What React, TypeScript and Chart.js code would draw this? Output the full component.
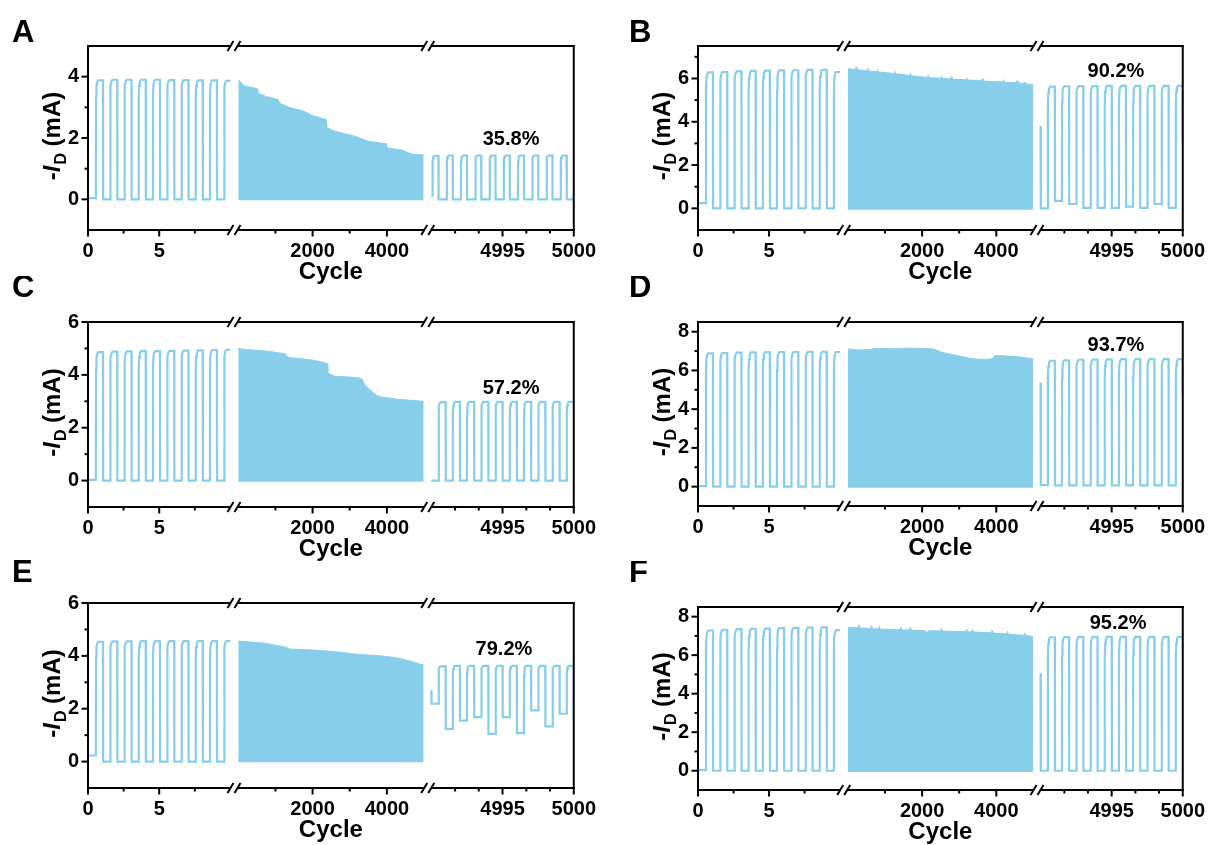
import React, { useEffect, useRef } from 'react';
import { Chart, registerables } from 'chart.js';

Chart.register(...registerables);

// ---------------- styles ----------------
const LINE_BLUE = '#87CEEB';
const FONT = '"Liberation Sans", Arial, Helvetica, sans-serif';

// ---------------- shared axis data ----------------
const SEG1_TICKS = [0, 2.5, 5, 7.5];
const SEG1_TICK_LABELS = ['0', '', '5', ''];
const SEG2_TICKS = [1000, 2000, 3000, 4000];
const SEG2_TICK_LABELS = ['', '2000', '', '4000'];
const SEG3_TICKS = [4991.67, 4993.33, 4995, 4996.67, 4998.33, 5000];
const SEG3_TICK_LABELS = ['', '', '4995', '', '', '5000'];
const Y_MIN = -1;

// ---------------- panel A ----------------
const A_Y_MAX = 5;
const A_Y_TICKS = [0, 1, 2, 3, 4];
const A_SEG1_START = 0.04;
const A_SEG1_PEAKS = [3.88, 3.9, 3.9, 3.9, 3.9, 3.89, 3.89, 3.88, 3.88, 3.86];
const A_ENVELOPE = [[0, 3.9], [150, 3.7], [430, 3.63], [520, 3.6], [540, 3.46], [760, 3.35], [1080, 3.25], [1100, 3.14], [1370, 3.0], [1770, 2.87], [2000, 2.73], [2370, 2.6], [2390, 2.33], [2600, 2.22], [2790, 2.16], [3160, 2.05], [3500, 1.89], [3990, 1.81], [4010, 1.68], [4430, 1.6], [4570, 1.52], [4730, 1.46], [4990, 1.45]];
const A_ENV_BASE = -0.03;
const A_SEG3_PEAKS = [1.42, 1.43, 1.43, 1.43, 1.43, 1.43, 1.43, 1.43, 1.43, 1.43];
const A_SEG3_LOWS = [0.12, 0, 0, 0, 0, 0, 0, 0, 0, 0];
const A_SEG3_START = null;
const A_SEG3_END = 0.15;
const A_SEG3_PHASE = [0.08, 0.5];
const A_RETENTION = '35.8%';
const A_LABEL_AT = [4995.6, 1.95];

// ---------------- panel B ----------------
const B_Y_MAX = 7.5;
const B_Y_TICKS = [0, 1, 2, 3, 4, 5, 6, 7];
const B_SEG1_START = 0.24;
const B_SEG1_PEAKS = [6.28, 6.3, 6.33, 6.35, 6.36, 6.37, 6.38, 6.4, 6.4, 6.3];
const B_ENVELOPE = [[0, 6.45], [200, 6.41], [218, 6.52], [240, 6.4], [520, 6.36], [534, 6.47], [555, 6.35], [780, 6.31], [795, 6.42], [815, 6.3], [1250, 6.23], [1266, 6.33], [1285, 6.22], [1670, 6.14], [1686, 6.24], [1705, 6.13], [2140, 6.05], [2157, 6.15], [2175, 6.04], [2505, 6.01], [2524, 6.11], [2545, 6.0], [2765, 5.98], [2785, 6.08], [2805, 5.97], [3185, 5.94], [3202, 6.04], [3220, 5.93], [3605, 5.89], [3622, 5.99], [3640, 5.88], [4180, 5.84], [4197, 5.94], [4215, 5.83], [4545, 5.81], [4564, 5.9], [4585, 5.79], [4755, 5.77], [4774, 5.85], [4795, 5.75], [4990, 5.72]];
const B_ENV_BASE = -0.07;
const B_SEG3_PEAKS = [5.62, 5.64, 5.65, 5.65, 5.66, 5.66, 5.66, 5.66, 5.66, 5.66];
const B_SEG3_LOWS = [0, 0.35, 0.2, 0.02, 0.02, 0.02, 0.08, 0.02, 0.2, 0.02];
const B_SEG3_START = 3.8;
const B_SEG3_END = 3.1;
const B_SEG3_PHASE = [0.5, 1.0];
const B_RETENTION = '90.2%';
const B_LABEL_AT = [4995.3, 6.3];

// ---------------- panel C ----------------
const C_Y_MAX = 6;
const C_Y_TICKS = [0, 1, 2, 3, 4, 5, 6];
const C_SEG1_START = 0.03;
const C_SEG1_PEAKS = [4.86, 4.88, 4.89, 4.9, 4.9, 4.91, 4.92, 4.93, 4.94, 4.95];
const C_ENVELOPE = [[0, 5.0], [120, 4.97], [755, 4.9], [1250, 4.8], [1330, 4.68], [1380, 4.66], [1980, 4.56], [2340, 4.46], [2395, 4.42], [2410, 4.06], [2590, 3.95], [3200, 3.9], [3330, 3.84], [3410, 3.61], [3560, 3.42], [3710, 3.23], [3815, 3.17], [4330, 3.07], [4990, 3.0]];
const C_ENV_BASE = -0.04;
const C_SEG3_PEAKS = [2.97, 2.98, 2.98, 2.98, 2.98, 2.98, 2.98, 2.98, 2.98, 2.98];
const C_SEG3_LOWS = [0, 0, 0, 0, 0, 0, 0, 0, 0, 0];
const C_SEG3_START = null;
const C_SEG3_END = null;
const C_SEG3_PHASE = [0.5, 1.0];
const C_RETENTION = '57.2%';
const C_LABEL_AT = [4995.6, 3.5];

// ---------------- panel D ----------------
const D_Y_MAX = 8.5;
const D_Y_TICKS = [0, 1, 2, 3, 4, 5, 6, 7, 8];
const D_SEG1_START = 0.03;
const D_SEG1_PEAKS = [6.88, 6.9, 6.92, 6.93, 6.94, 6.95, 6.95, 6.96, 6.96, 6.95];
const D_ENVELOPE = [[0, 7.11], [300, 7.05], [640, 7.08], [700, 7.14], [1270, 7.12], [1600, 7.15], [2000, 7.14], [2310, 7.1], [2520, 6.94], [2940, 6.77], [3100, 6.7], [3360, 6.6], [3680, 6.56], [3890, 6.6], [3950, 6.75], [4020, 6.77], [4620, 6.7], [4990, 6.6]];
const D_ENV_BASE = -0.06;
const D_SEG3_PEAKS = [6.5, 6.52, 6.55, 6.56, 6.57, 6.58, 6.58, 6.58, 6.58, 6.58];
const D_SEG3_LOWS = [0.08, 0.07, 0.07, 0.07, 0.07, 0.07, 0.07, 0.07, 0.07, 0.07];
const D_SEG3_START = 5.36;
const D_SEG3_END = 4.76;
const D_SEG3_PHASE = [0.5, 1.0];
const D_RETENTION = '93.7%';
const D_LABEL_AT = [4995.3, 7.3];

// ---------------- panel E ----------------
const E_Y_MAX = 6;
const E_Y_TICKS = [0, 1, 2, 3, 4, 5, 6];
const E_SEG1_START = 0.23;
const E_SEG1_PEAKS = [4.53, 4.55, 4.55, 4.56, 4.56, 4.56, 4.56, 4.56, 4.56, 4.56];
const E_ENVELOPE = [[0, 4.56], [755, 4.47], [1000, 4.4], [1300, 4.32], [1370, 4.26], [2000, 4.22], [2600, 4.16], [3200, 4.06], [3815, 4.0], [4220, 3.94], [4630, 3.8], [4990, 3.65]];
const E_ENV_BASE = -0.03;
const E_SEG3_PEAKS = [3.6, 3.62, 3.62, 3.62, 3.62, 3.62, 3.62, 3.62, 3.62, 3.62];
const E_SEG3_LOWS = [2.19, 1.24, 1.55, 1.68, 1.05, 1.68, 1.08, 1.94, 1.33, 1.81];
const E_SEG3_START = 2.7;
const E_SEG3_END = 1.56;
const E_SEG3_PHASE = [0.5, 1.0];
const E_RETENTION = '79.2%';
const E_LABEL_AT = [4995.1, 4.23];

// ---------------- panel F ----------------
const F_Y_MAX = 8.5;
const F_Y_TICKS = [0, 1, 2, 3, 4, 5, 6, 7, 8];
const F_SEG1_START = 0.03;
const F_SEG1_PEAKS = [7.28, 7.32, 7.35, 7.37, 7.38, 7.4, 7.42, 7.43, 7.44, 7.3];
const F_ENVELOPE = [[0, 7.45], [280, 7.42], [303, 7.58], [326, 7.41], [615, 7.38], [638, 7.54], [660, 7.37], [825, 7.36], [848, 7.5], [870, 7.35], [1400, 7.32], [1423, 7.46], [1446, 7.31], [1663, 7.31], [1686, 7.45], [1709, 7.3], [2000, 7.28], [2080, 7.26], [2130, 7.18], [2200, 7.27], [2500, 7.26], [2524, 7.4], [2547, 7.25], [3180, 7.22], [3202, 7.36], [3225, 7.22], [3340, 7.21], [3362, 7.34], [3385, 7.2], [3860, 7.16], [3884, 7.3], [3907, 7.15], [4280, 7.1], [4304, 7.24], [4327, 7.09], [4750, 7.03], [4774, 7.16], [4797, 7.02], [4990, 6.97]];
const F_ENV_BASE = -0.06;
const F_SEG3_PEAKS = [6.93, 6.94, 6.95, 6.95, 6.95, 6.95, 6.95, 6.95, 6.95, 6.95];
const F_SEG3_LOWS = [0, 0, 0, 0, 0, 0, 0, 0, 0, 0];
const F_SEG3_START = 5.06;
const F_SEG3_END = null;
const F_SEG3_PHASE = [0.5, 1.0];
const F_RETENTION = '95.2%';
const F_LABEL_AT = [4995.45, 7.63];

// ---------------- layout (page px) ----------------
// [left, right, top, bottom] of each plot frame
const BOX: Record<string, number[]> = {
  A: [88, 578, 46, 230],
  B: [698, 1190, 46, 230],
  C: [88, 578, 322, 507],
  D: [698, 1190, 322, 506],
  E: [88, 578, 603, 788],
  F: [698, 1190, 607, 790],
};
const LETTER_POS: Record<string, number[]> = {
  A: [12, 42], B: [629, 42], C: [12, 297], D: [629, 297], E: [12, 582], F: [629, 582],
};

// broken x axis: virtual coordinates
const SEG2_V0 = 10.55;
const SEG2_VSPAN = 13.04;
const SEG3_V0 = 24.1;
const X_VMAX = 34.1;
const BREAK1_V = 10.25;
const BREAK2_V = 23.85;
const v2 = (c: number) => SEG2_V0 + (c / 5000) * SEG2_VSPAN;
const v3 = (c: number) => SEG3_V0 + (c - 4990);

// rounded rising edge (fraction of cycle, fraction of step)
const RISE_SHAPE = [[0, 0], [0.012, 0.86], [0.04, 0.95], [0.09, 0.985], [0.17, 1]];

const X_TICK_VALUES = [
  ...SEG1_TICKS,
  ...SEG2_TICKS.map(v2),
  ...SEG3_TICKS.map(v3),
];
const X_TICK_TEXT = [...SEG1_TICK_LABELS, ...SEG2_TICK_LABELS, ...SEG3_TICK_LABELS];

type Pt = { x: number; y: number };

function pushRise(pts: Pt[], at: number, low: number, high: number, toV: (c: number) => number) {
  for (const [dt, f] of RISE_SHAPE) pts.push({ x: toV(at + dt), y: low + f * (high - low) });
}

function buildSeg1(start: number, peaks: number[]): Pt[] {
  const pts: Pt[] = [{ x: 0, y: start }];
  const id = (c: number) => c;
  peaks.forEach((h, k) => {
    const r = k + 0.55;
    const f = k + 1.05;
    const low = k === 0 ? start : 0;
    pushRise(pts, r, low, h, id);
    if (f <= 10) {
      pts.push({ x: f, y: h });
      pts.push({ x: f + 0.012, y: 0 });
    } else {
      pts.push({ x: 10, y: h });
    }
  });
  return pts;
}

function buildSeg3(peaks: number[], lows: number[], start: number | null, end: number | null, phase: number[]): Pt[] {
  const pts: Pt[] = [];
  const c0 = 4990;
  if (start !== null) {
    pts.push({ x: v3(c0), y: start });
    pts.push({ x: v3(c0 + 0.015), y: lows[0] });
  } else {
    pts.push({ x: v3(c0), y: lows[0] });
  }
  let endedHigh = false;
  let lastLow = lows[0];
  peaks.forEach((h, k) => {
    const r = c0 + k + phase[0];
    const f = c0 + k + phase[1];
    pushRise(pts, r, lows[k], h, v3);
    if (f < 5000 - 1e-6) {
      const nl = k + 1 < lows.length ? lows[k + 1] : lows[k];
      pts.push({ x: v3(f), y: h });
      pts.push({ x: v3(f + 0.012), y: nl });
      lastLow = nl;
      endedHigh = false;
    } else {
      pts.push({ x: v3(5000), y: h });
      endedHigh = true;
    }
  });
  if (!endedHigh) pts.push({ x: v3(5000), y: lastLow });
  if (end !== null) pts.push({ x: v3(5000), y: end });
  return pts;
}

const PANELS = [
  { id: 'A', yMax: A_Y_MAX, yTicks: A_Y_TICKS, s1: buildSeg1(A_SEG1_START, A_SEG1_PEAKS), env: A_ENVELOPE, base: A_ENV_BASE, s3: buildSeg3(A_SEG3_PEAKS, A_SEG3_LOWS, A_SEG3_START, A_SEG3_END, A_SEG3_PHASE), ret: A_RETENTION, at: A_LABEL_AT },
  { id: 'B', yMax: B_Y_MAX, yTicks: B_Y_TICKS, s1: buildSeg1(B_SEG1_START, B_SEG1_PEAKS), env: B_ENVELOPE, base: B_ENV_BASE, s3: buildSeg3(B_SEG3_PEAKS, B_SEG3_LOWS, B_SEG3_START, B_SEG3_END, B_SEG3_PHASE), ret: B_RETENTION, at: B_LABEL_AT },
  { id: 'C', yMax: C_Y_MAX, yTicks: C_Y_TICKS, s1: buildSeg1(C_SEG1_START, C_SEG1_PEAKS), env: C_ENVELOPE, base: C_ENV_BASE, s3: buildSeg3(C_SEG3_PEAKS, C_SEG3_LOWS, C_SEG3_START, C_SEG3_END, C_SEG3_PHASE), ret: C_RETENTION, at: C_LABEL_AT },
  { id: 'D', yMax: D_Y_MAX, yTicks: D_Y_TICKS, s1: buildSeg1(D_SEG1_START, D_SEG1_PEAKS), env: D_ENVELOPE, base: D_ENV_BASE, s3: buildSeg3(D_SEG3_PEAKS, D_SEG3_LOWS, D_SEG3_START, D_SEG3_END, D_SEG3_PHASE), ret: D_RETENTION, at: D_LABEL_AT },
  { id: 'E', yMax: E_Y_MAX, yTicks: E_Y_TICKS, s1: buildSeg1(E_SEG1_START, E_SEG1_PEAKS), env: E_ENVELOPE, base: E_ENV_BASE, s3: buildSeg3(E_SEG3_PEAKS, E_SEG3_LOWS, E_SEG3_START, E_SEG3_END, E_SEG3_PHASE), ret: E_RETENTION, at: E_LABEL_AT },
  { id: 'F', yMax: F_Y_MAX, yTicks: F_Y_TICKS, s1: buildSeg1(F_SEG1_START, F_SEG1_PEAKS), env: F_ENVELOPE, base: F_ENV_BASE, s3: buildSeg3(F_SEG3_PEAKS, F_SEG3_LOWS, F_SEG3_START, F_SEG3_END, F_SEG3_PHASE), ret: F_RETENTION, at: F_LABEL_AT },
];

const Y_AXIS_W = 60;
const X_AXIS_H = 50;
const CANVAS_H = 290;

function geometry(id: string) {
  const [l, r, t, b] = BOX[id];
  const leftCol = l < 600;
  const cx = leftCol ? 0 : 600;
  const cw = leftCol ? 605 : 614;
  const cy = t - 46;
  const ch = CANVAS_H;
  return {
    cx, cy, cw, ch,
    padding: {
      left: l - cx - Y_AXIS_W,
      right: cx + cw - r,
      top: t - cy,
      bottom: ch - (b - cy) - X_AXIS_H,
    },
  };
}

function line(ctx: CanvasRenderingContext2D, x1: number, y1: number, x2: number, y2: number) {
  ctx.beginPath();
  ctx.moveTo(x1, y1);
  ctx.lineTo(x2, y2);
  ctx.stroke();
}

function drawYTitle(ctx: CanvasRenderingContext2D, cx: number, cy: number) {
  const big = `bold 24px ${FONT}`;
  const ital = `italic bold 24px ${FONT}`;
  const small = `bold 16px ${FONT}`;
  const parts: [string, string, number, number][] = [
    ['-', big, 0, 0],
    ['I', ital, 0, 1],
    ['D', small, 6, 0],
    [' (mA)', big, 0, 0],
  ];
  ctx.save();
  ctx.translate(cx, cy);
  ctx.rotate(-Math.PI / 2);
  ctx.textBaseline = 'alphabetic';
  ctx.textAlign = 'left';
  let total = 0;
  const widths = parts.map(([s, f, , extra]) => {
    ctx.font = f;
    const w = ctx.measureText(s).width + extra;
    total += w;
    return w;
  });
  let x = -total / 2;
  parts.forEach(([s, f, dy], i) => {
    ctx.font = f;
    ctx.fillText(s, x, 8.5 + dy);
    x += widths[i];
  });
  ctx.restore();
}

function makeConfig(p: (typeof PANELS)[number], geo: ReturnType<typeof geometry>) {
  const env = p.env.map(([c, v]) => ({ x: v2(c), y: v }));
  const decor = {
    id: 'decor' + p.id,
    afterDatasetsDraw(chart: any) {
      const { ctx, chartArea: a, scales } = chart;
      const x = scales.x;
      const y = scales.y;
      ctx.save();
      ctx.strokeStyle = '#000';
      ctx.lineWidth = 2;
      ctx.lineCap = 'butt';
      const b1 = x.getPixelForValue(BREAK1_V);
      const b2 = x.getPixelForValue(BREAK2_V);
      const g = 3.5;
      for (const yy of [a.top, a.bottom]) {
        line(ctx, a.left - 1, yy, b1 - g, yy);
        line(ctx, b1 + g, yy, b2 - g, yy);
        line(ctx, b2 + g, yy, a.right + 1, yy);
        for (const bx of [b1 - g, b1 + g, b2 - g, b2 + g]) line(ctx, bx - 3, yy + 5, bx + 3, yy - 5);
      }
      line(ctx, a.left, a.top - 1, a.left, a.bottom + 1);
      line(ctx, a.right, a.top - 1, a.right, a.bottom + 1);
      y.ticks.forEach((t: any) => {
        const py = y.getPixelForValue(t.value);
        const len = t.label ? 6.5 : 3.5;
        line(ctx, a.left - len, py, a.left, py);
      });
      x.ticks.forEach((t: any) => {
        const px = x.getPixelForValue(t.value);
        const len = t.label ? 6.5 : 3.5;
        line(ctx, px, a.bottom, px, a.bottom + len);
      });
      ctx.restore();
    },
    afterDraw(chart: any) {
      const { ctx, chartArea: a, scales } = chart;
      const x = scales.x;
      const y = scales.y;
      ctx.save();
      ctx.fillStyle = '#000';
      // panel letter
      const [lx, ly] = LETTER_POS[p.id];
      ctx.font = `bold 31px ${FONT}`;
      ctx.textAlign = 'left';
      ctx.textBaseline = 'alphabetic';
      ctx.fillText(p.id, lx - geo.cx, ly - geo.cy);
      // x title
      ctx.font = `bold 24px ${FONT}`;
      ctx.textAlign = 'center';
      ctx.fillText('Cycle', (a.left + a.right) / 2, a.bottom + 49);
      // retention label
      ctx.font = `bold 20px ${FONT}`;
      ctx.textBaseline = 'middle';
      ctx.fillText(p.ret, x.getPixelForValue(v3(p.at[0])), y.getPixelForValue(p.at[1]));
      ctx.restore();
      drawYTitle(ctx, a.left - 37, (a.top + a.bottom) / 2 - 2);
    },
  };

  const tickFont = { family: FONT, size: 20, weight: 'bold' as const };

  return {
    type: 'line' as const,
    data: {
      datasets: [
        { data: p.s1, borderColor: LINE_BLUE, borderWidth: 2.2, fill: false, pointRadius: 0, tension: 0 },
        { data: env, borderColor: LINE_BLUE, backgroundColor: LINE_BLUE, borderWidth: 1, fill: { value: p.base }, pointRadius: 0, tension: 0 },
        { data: p.s3, borderColor: LINE_BLUE, borderWidth: 2.2, fill: false, pointRadius: 0, tension: 0 },
      ],
    },
    options: {
      animation: false as const,
      responsive: false,
      maintainAspectRatio: false,
      devicePixelRatio: 1,
      events: [] as any[],
      parsing: false as const,
      layout: { padding: geo.padding },
      plugins: { legend: { display: false }, tooltip: { enabled: false }, title: { display: false } },
      scales: {
        x: {
          type: 'linear' as const,
          min: 0,
          max: X_VMAX,
          afterFit: (s: any) => { s.height = X_AXIS_H; },
          afterBuildTicks: (s: any) => { s.ticks = X_TICK_VALUES.map((v) => ({ value: v })); },
          grid: { display: false, drawTicks: false },
          border: { display: false },
          ticks: {
            autoSkip: false,
            maxRotation: 0,
            minRotation: 0,
            padding: 9,
            color: '#000',
            font: tickFont,
            callback: (_v: any, i: number) => X_TICK_TEXT[i],
          },
        },
        y: {
          type: 'linear' as const,
          min: Y_MIN,
          max: p.yMax,
          afterFit: (s: any) => { s.width = Y_AXIS_W; },
          afterBuildTicks: (s: any) => { s.ticks = p.yTicks.map((v) => ({ value: v })); },
          grid: { display: false, drawTicks: false },
          border: { display: false },
          ticks: {
            autoSkip: false,
            padding: 9,
            color: '#000',
            font: tickFont,
            callback: (v: any) => (Number(v) % 2 === 0 ? String(v) : ''),
          },
        },
      },
    },
    plugins: [decor],
  };
}

function Panel({ p }: { p: (typeof PANELS)[number] }) {
  const ref = useRef<HTMLCanvasElement>(null);
  const geo = geometry(p.id);
  useEffect(() => {
    if (!ref.current) return;
    const chart = new Chart(ref.current, makeConfig(p, geo) as any);
    return () => chart.destroy();
  }, []);
  return (
    <canvas
      ref={ref}
      width={geo.cw}
      height={geo.ch}
      style={{ position: 'absolute', left: geo.cx, top: geo.cy, width: geo.cw, height: geo.ch }}
    />
  );
}

export default function App() {
  return (
    <div style={{ position: 'absolute', left: 0, top: 0, width: 1214, height: 845, overflow: 'hidden', background: '#fff' }}>
      {PANELS.map((p) => (
        <Panel key={p.id} p={p} />
      ))}
    </div>
  );
}
